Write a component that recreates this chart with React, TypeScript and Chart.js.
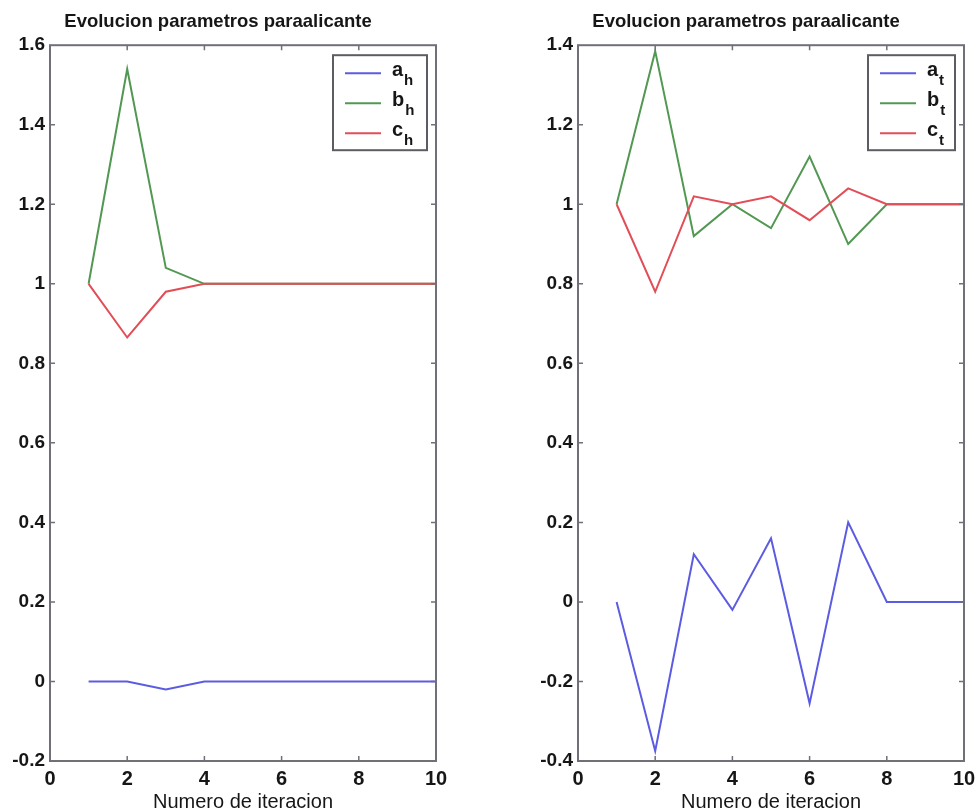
import React, { useEffect, useRef } from 'react';
import { Chart, registerables } from 'chart.js';

Chart.register(...registerables);

// ---------- data ----------
const iterations = [1, 2, 3, 4, 5, 6, 7, 8, 9, 10];

const aH = [0, 0, -0.02, 0, 0, 0, 0, 0, 0, 0];
const bH = [1, 1.54, 1.04, 1, 1, 1, 1, 1, 1, 1];
const cH = [1, 0.865, 0.98, 1, 1, 1, 1, 1, 1, 1];

const aT = [0, -0.375, 0.12, -0.02, 0.16, -0.255, 0.2, 0, 0, 0];
const bT = [1, 1.385, 0.92, 1, 0.94, 1.12, 0.9, 1, 1, 1];
const cT = [1, 0.78, 1.02, 1, 1.02, 0.96, 1.04, 1, 1, 1];

const TITLE = 'Evolucion parametros paraalicante';
const X_TITLE = 'Numero de iteracion';
const X_MIN = 0;
const X_MAX = 10;
const X_STEP = 2;
const LEFT_Y = [-0.2, 1.6];
const RIGHT_Y = [-0.4, 1.4];
const Y_STEP = 0.2;
const LEFT_SUB = 'h';
const RIGHT_SUB = 't';
const SERIES_BASES = ['a', 'b', 'c'];

const COLORS = ['rgb(92, 92, 226)', 'rgb(82, 152, 82)', 'rgb(226, 78, 88)'];
const FRAME = '#707078';
const TEXT = '#161616';
const FONT = 'Arial, "Liberation Sans", Helvetica, sans-serif';

const toPoints = (vals: number[]) => iterations.map((x, i) => ({ x, y: vals[i] }));
const fmt = (v: number | string) => String(Math.round(Number(v) * 10) / 10);

const framePlugin = {
  id: 'panelFrame',
  afterDraw(chart: any, _args: any, opts: any) {
    const { ctx, chartArea } = chart;
    const { left, right, top, bottom } = chartArea;
    const xs = chart.scales.x;
    const ys = chart.scales.y;
    ctx.save();
    ctx.strokeStyle = FRAME;
    // inward ticks
    ctx.lineWidth = 1.5;
    const tl = 5;
    xs.ticks.forEach((t: any) => {
      const px = xs.getPixelForValue(t.value);
      if (Math.abs(px - left) < 2 || Math.abs(px - right) < 2) return;
      ctx.beginPath();
      ctx.moveTo(px, bottom);
      ctx.lineTo(px, bottom - tl);
      ctx.moveTo(px, top);
      ctx.lineTo(px, top + tl);
      ctx.stroke();
    });
    ys.ticks.forEach((t: any) => {
      const py = ys.getPixelForValue(t.value);
      if (Math.abs(py - top) < 2 || Math.abs(py - bottom) < 2) return;
      ctx.beginPath();
      ctx.moveTo(left, py);
      ctx.lineTo(left + tl, py);
      ctx.moveTo(right, py);
      ctx.lineTo(right - tl, py);
      ctx.stroke();
    });
    // box
    ctx.lineWidth = 2;
    ctx.strokeRect(left, top, right - left, bottom - top);

    // legend
    const lw = opts.legendWidth;
    const lh = 95;
    const lx = right - 9 - lw;
    const ly = top + 10;
    ctx.fillStyle = '#ffffff';
    ctx.fillRect(lx, ly, lw, lh);
    ctx.lineWidth = 2;
    ctx.strokeStyle = '#5c5c62';
    ctx.strokeRect(lx, ly, lw, lh);
    chart.data.datasets.forEach((ds: any, i: number) => {
      const y = ly + 18 + i * 30;
      ctx.strokeStyle = ds.borderColor;
      ctx.lineWidth = 2;
      ctx.beginPath();
      ctx.moveTo(lx + 12, y);
      ctx.lineTo(lx + 48, y);
      ctx.stroke();
      ctx.fillStyle = TEXT;
      ctx.textBaseline = 'middle';
      ctx.textAlign = 'left';
      ctx.font = `bold 20px ${FONT}`;
      const base = SERIES_BASES[i];
      ctx.fillText(base, lx + 59, y - 3);
      const w = ctx.measureText(base).width;
      ctx.font = `bold 15px ${FONT}`;
      ctx.fillText(opts.sub, lx + 60 + w, y + 8);
    });
    ctx.restore();
  },
};

function makeConfig(series: number[][], yRange: number[], sub: string, legendWidth: number) {
  const yFont = { family: FONT, size: 19, weight: 'bold' as const };
  const xFont = { family: FONT, size: 20, weight: 'bold' as const };
  return {
    type: 'line' as const,
    data: {
      datasets: series.map((vals, i) => ({
        label: SERIES_BASES[i] + sub,
        data: toPoints(vals),
        borderColor: COLORS[i],
        backgroundColor: COLORS[i],
        borderWidth: 2,
        pointRadius: 0,
        tension: 0,
        order: 2 - i,
      })),
    },
    options: {
      animation: false,
      responsive: false,
      layout: { padding: { left: 0, right: 51, top: 0, bottom: 0 } },
      plugins: {
        legend: { display: false },
        tooltip: { enabled: false },
        title: {
          display: true,
          text: TITLE,
          color: TEXT,
          font: { family: FONT, size: 18.5, weight: 'bold' },
          padding: { top: 11, bottom: 12 },
        },
        panelFrame: { sub, legendWidth },
      },
      scales: {
        x: {
          type: 'linear',
          min: X_MIN,
          max: X_MAX,
          ticks: { stepSize: X_STEP, padding: 6, color: TEXT, font: xFont, callback: fmt },
          grid: { display: false, drawTicks: false },
          border: { display: false },
          title: {
            display: true,
            text: X_TITLE,
            color: TEXT,
            font: { family: FONT, size: 20 },
            padding: { top: 0, bottom: -3 },
          },
          afterFit: (s: any) => {
            s.height = 50;
          },
        },
        y: {
          type: 'linear',
          min: yRange[0],
          max: yRange[1],
          ticks: { stepSize: Y_STEP, padding: 5, color: TEXT, font: yFont, callback: fmt },
          grid: { display: false, drawTicks: false },
          border: { display: false },
          afterFit: (s: any) => {
            s.width = 50;
          },
        },
      },
    },
    plugins: [framePlugin],
  };
}

function Panel(props: { series: number[][]; yRange: number[]; sub: string; legendWidth: number; left: number }) {
  const ref = useRef<HTMLCanvasElement | null>(null);
  useEffect(() => {
    if (!ref.current) return;
    const chart = new Chart(ref.current, makeConfig(props.series, props.yRange, props.sub, props.legendWidth) as any);
    return () => chart.destroy();
  }, []);
  return (
    <canvas
      ref={ref}
      width={487}
      height={811}
      style={{ position: 'absolute', left: props.left, top: 0, width: 487, height: 811 }}
    />
  );
}

export default function App() {
  return (
    <div
      style={{
        position: 'fixed',
        left: 0,
        top: 0,
        width: 975,
        height: 811,
        overflow: 'hidden',
        background: '#ffffff',
      }}
    >
      <Panel series={[aH, bH, cH]} yRange={LEFT_Y} sub={LEFT_SUB} legendWidth={94} left={0} />
      <Panel series={[aT, bT, cT]} yRange={RIGHT_Y} sub={RIGHT_SUB} legendWidth={87} left={528} />
    </div>
  );
}
